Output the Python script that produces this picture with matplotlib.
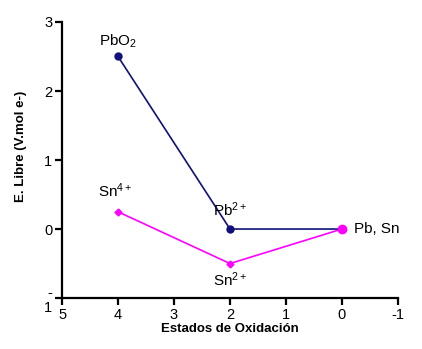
import matplotlib.pyplot as plt

plt.rcParams['font.family'] = ['Liberation Sans', 'DejaVu Sans']
plt.rcParams['mathtext.fontset'] = 'custom'
plt.rcParams['mathtext.rm'] = 'Liberation Sans'
plt.rcParams['mathtext.it'] = 'Liberation Sans'
plt.rcParams['mathtext.default'] = 'rm'

# data
pb_ox = [4, 2, 0]
pb_g = [2.5, 0, 0]
sn_ox = [4, 2, 0]
sn_g = [0.25, -0.5, 0]

yticks = [-1, 0, 1, 2, 3]
ytick_labels = ['-\n1', '0', '1', '2', '3']
xticks = [5, 4, 3, 2, 1, 0, -1]

fig = plt.figure(figsize=(4.22, 3.49), dpi=100)
ax = fig.add_axes([0.147, 0.146, 0.796, 0.791])

navy = '#10107a'
mag = '#ff00ff'

ax.plot(pb_ox, pb_g, '-', color=navy, lw=1.2, marker='o', ms=5, zorder=3)
ax.plot(sn_ox, sn_g, '-', color=mag, lw=1.2, marker='D', ms=3.5, zorder=2)
ax.plot(sn_ox[-1], sn_g[-1], 'o', color=mag, ms=6, zorder=4)

fs = 11
ax.text(4, 2.6, 'PbO$_2$', ha='center', va='bottom', fontsize=fs)
ax.text(2, 0.15, 'Pb$^{2+}$', ha='center', va='bottom', fontsize=fs)
ax.text(4.05, 0.42, 'Sn$^{4+}$', ha='center', va='bottom', fontsize=fs)
ax.text(2, -0.6, 'Sn$^{2+}$', ha='center', va='top', fontsize=fs)
ax.text(-0.22, 0, 'Pb, Sn', ha='left', va='center', fontsize=fs)

ax.set_xlim(5, -1)
ax.set_ylim(-1, 3)
ax.set_xticks(xticks)
ax.set_xticklabels([str(x) for x in xticks])
ax.set_yticks(yticks)
ax.set_yticklabels(ytick_labels, linespacing=1.1)

for s in ['top', 'right']:
    ax.spines[s].set_visible(False)
for s in ['left', 'bottom']:
    ax.spines[s].set_linewidth(1.6)
ax.tick_params(width=1.6, length=5, labelsize=10.5, pad=2)

ax.set_xlabel('Estados de Oxidación', fontsize=9.5, fontweight='bold', labelpad=1)
ax.set_ylabel('E. Libre (V.mol e-)', fontsize=9.5, fontweight='bold')
ax.yaxis.set_label_coords(-0.105, 0.55)

fig.savefig('out.png', dpi=100)
